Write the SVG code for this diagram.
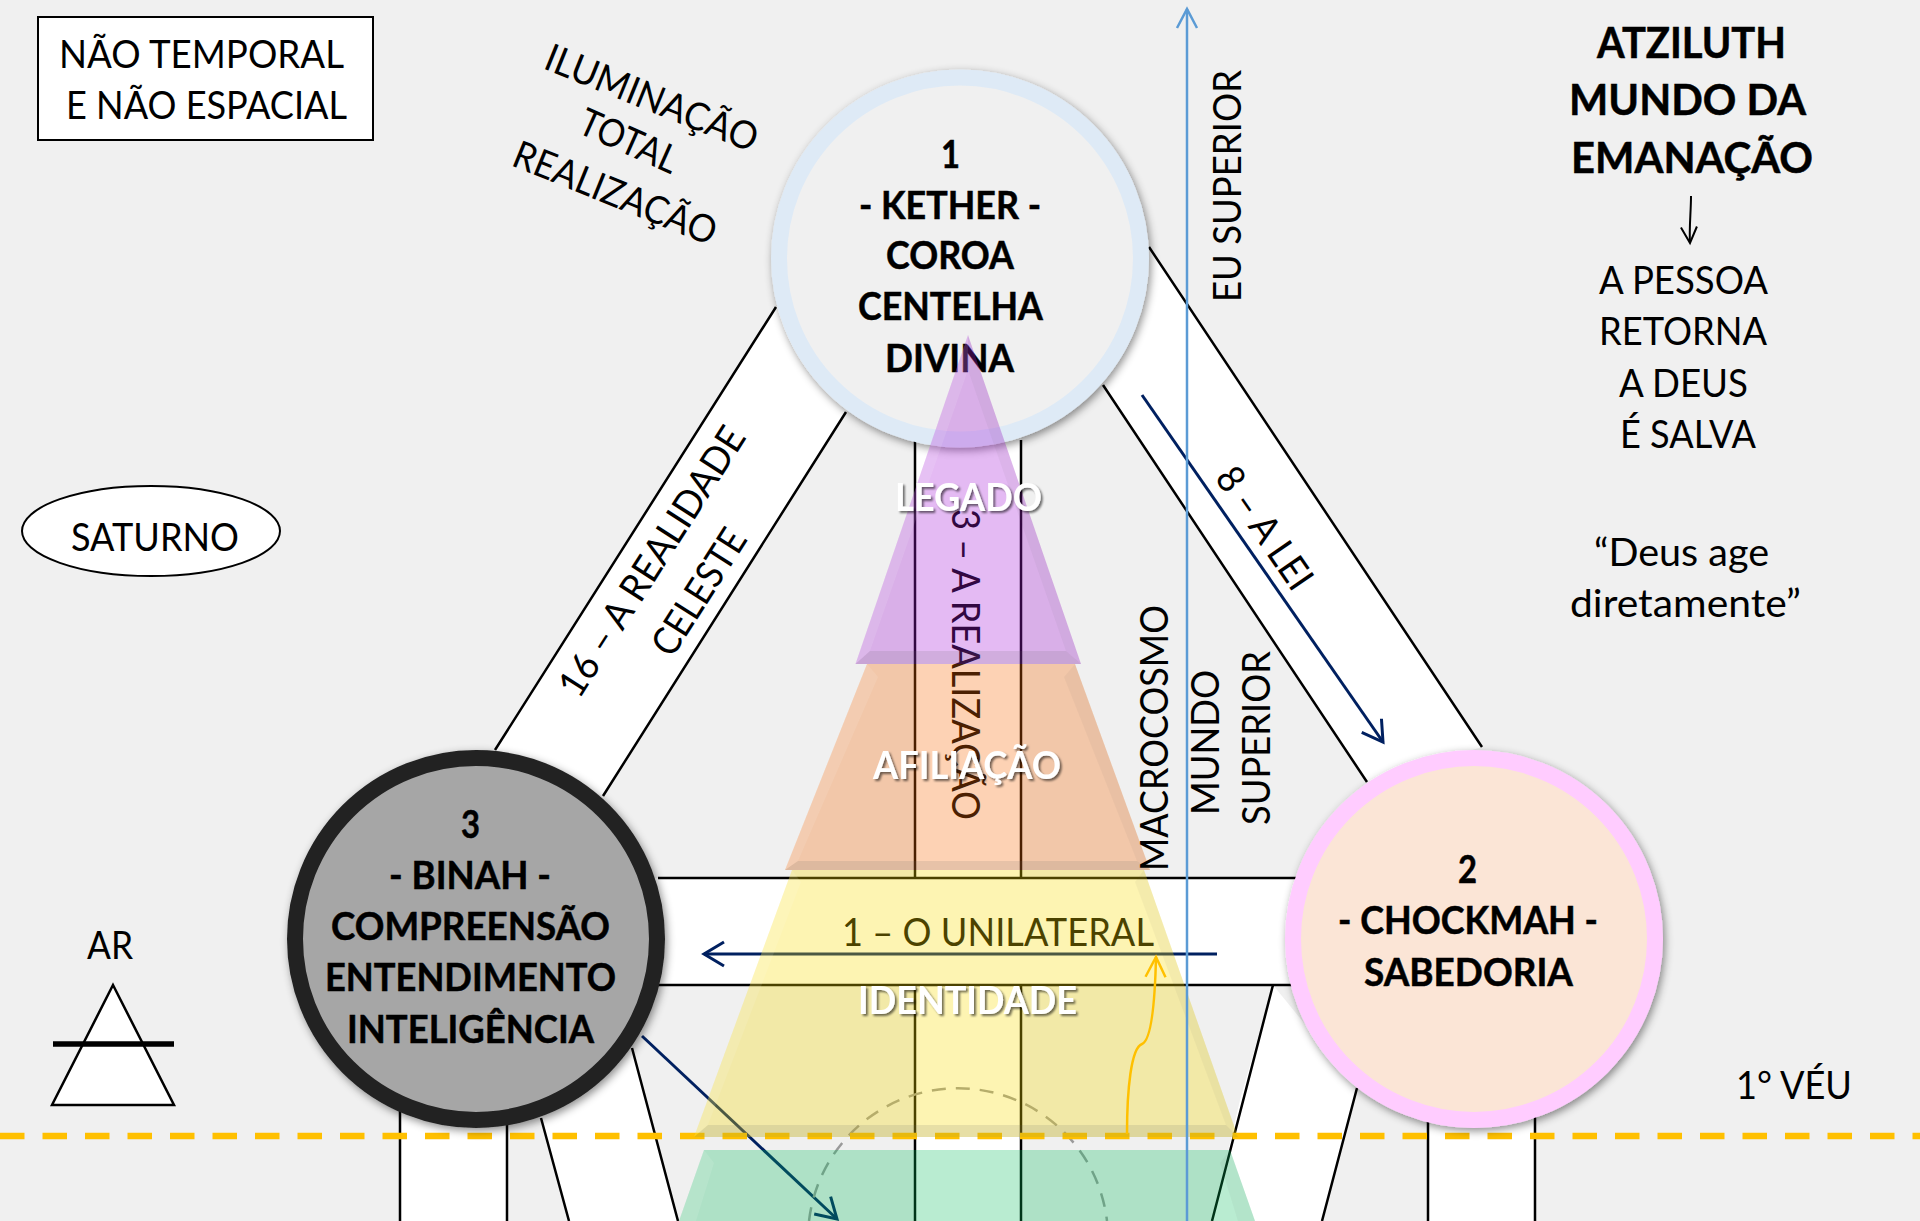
<svg xmlns="http://www.w3.org/2000/svg" width="1920" height="1221" viewBox="0 0 1920 1221">
<style>
text{font-family:Lato,"Open Sans","Liberation Sans",sans-serif;font-size:38.5px;fill:#000}
.b{font-weight:700;stroke:#000;stroke-width:.5}
.h{font-size:42.5px;font-weight:700;stroke:#000;stroke-width:.5}
.w{font-weight:700;fill:#fff;filter:url(#ts)}
.band{fill:#fff;stroke:none}
.edge{fill:none;stroke:#000;stroke-width:2.5}
.nv{fill:none;stroke:#002060;stroke-width:3}
.lite{fill:#fff;opacity:.1}
.dark{fill:#555;opacity:.05}
.base{fill:#666;opacity:.14}
.hi{stroke:#fff;stroke-width:5;opacity:.6;filter:url(#bl)}
.node{stroke-width:16;filter:url(#ds)}
</style>
<defs>
<filter id="ds" x="-15%" y="-15%" width="130%" height="130%"><feDropShadow dx="2" dy="3" stdDeviation="4" flood-color="#000" flood-opacity=".45"/></filter>
<filter id="ts" x="-10%" y="-20%" width="120%" height="140%"><feDropShadow dx="2" dy="2" stdDeviation="1.2" flood-color="#000" flood-opacity=".55"/></filter>
<filter id="bl" x="-5%" y="-300%" width="110%" height="700%"><feGaussianBlur stdDeviation=".8"/></filter>
<marker id="mNavy" markerUnits="userSpaceOnUse" markerWidth="44" markerHeight="44" refX="22" refY="22" orient="auto" overflow="visible"><path d="M2,10 L22,22 L2,34" fill="none" stroke="#002060" stroke-width="3"/></marker>
<marker id="mBlue" markerUnits="userSpaceOnUse" markerWidth="44" markerHeight="44" refX="22" refY="22" orient="auto" overflow="visible"><path d="M3,12 L22,22 L3,32" fill="none" stroke="#5b9bd5" stroke-width="2.5"/></marker>
<marker id="mGold" markerUnits="userSpaceOnUse" markerWidth="44" markerHeight="44" refX="22" refY="22" orient="auto" overflow="visible"><path d="M2,12 L22,22 L2,32" fill="none" stroke="#ffc000" stroke-width="2.5"/></marker>
<marker id="mBlack" markerUnits="userSpaceOnUse" markerWidth="44" markerHeight="44" refX="22" refY="22" orient="auto" overflow="visible"><path d="M6,14 L22,22 L6,30" fill="none" stroke="#000" stroke-width="2"/></marker>
</defs>
<rect width="1920" height="1221" fill="#f0f0f0"/>

<g id="connectors">
<polygon class="band" points="776,307 495,750 603,796 846,412 960,258"/>
<polygon class="band" points="1149,247 1482,747 1367,782 1103,385 960,258"/>
<rect class="band" x="915" y="400" width="106" height="821"/>
<rect class="band" x="640" y="878" width="700" height="107"/>
<polygon class="band" points="1273,985 1357,1088 1322,1221 1212,1221 1240,1100"/>
<polygon class="band" points="530,1080 632,1048 678,1221 569,1221"/>
<rect class="band" x="400" y="1090" width="107" height="131"/>
<rect class="band" x="1428" y="1090" width="107" height="131"/>
<path class="edge" d="M776,307 L495,750 M846,412 L603,796 M1149,247 L1482,747 M1103,385 L1367,782"/>
<path class="edge" d="M915,440 V878 M1021,440 V878 M915,985 V1221 M1021,985 V1221"/>
<path class="edge" d="M658,878 H1300 M658,985 H1300"/>
<path class="edge" d="M1273,985 L1212,1221 M1357,1088 L1322,1221 M541,1118 L569,1221 M632,1048 L678,1221"/>
<path class="edge" d="M400,1100 V1221 M507,1100 V1221 M1428,1100 V1221 M1535,1100 V1221"/>
<path class="nv" d="M1142,395 L1383,742" marker-end="url(#mNavy)"/>
<path class="nv" d="M1217,954 H704" marker-end="url(#mNavy)"/>
<path class="nv" d="M642,1036 L837,1219" marker-end="url(#mNavy)"/>
<path d="M809,1221 A150,150 0 0 1 1107,1221" fill="none" stroke="#9a9a9a" stroke-width="2.5" stroke-dasharray="14 10"/>
<path d="M0,1136 H1920" fill="none" stroke="#ffc000" stroke-width="6.5" stroke-dasharray="24.5 18"/>
</g>

<text x="579" y="700" transform="rotate(-57.4 579 700)" textLength="312" lengthAdjust="spacingAndGlyphs">16 – A REALIDADE</text>
<text x="672" y="659" transform="rotate(-57.5 672 659)" textLength="142" lengthAdjust="spacingAndGlyphs">CELESTE</text>
<text x="1214" y="478" transform="rotate(55.5 1214 478)" textLength="140" lengthAdjust="spacingAndGlyphs">8 – A LEI</text>
<text x="952" y="509" transform="rotate(90 952 509)" textLength="311" lengthAdjust="spacingAndGlyphs">3 – A REALIZAÇÃO</text>
<text x="842" y="946" textLength="312" lengthAdjust="spacingAndGlyphs">1 – O UNILATERAL</text>

<g id="node-kether">
<circle class="node" cx="960" cy="258.5" r="181" fill="#f0f0f0" stroke="#deeaf6"/>
<text class="b" x="941" y="168" textLength="19" lengthAdjust="spacingAndGlyphs">1</text>
<text class="b" x="859" y="219" textLength="182" lengthAdjust="spacingAndGlyphs">- KETHER -</text>
<text class="b" x="886" y="269" textLength="128" lengthAdjust="spacingAndGlyphs">COROA</text>
<text class="b" x="858" y="320" textLength="185" lengthAdjust="spacingAndGlyphs">CENTELHA</text>
<text class="b" x="885" y="372" textLength="129" lengthAdjust="spacingAndGlyphs">DIVINA</text>
</g>
<g id="node-chockmah">
<circle class="node" cx="1474" cy="939" r="181" fill="#fbe5d6" stroke="#ffccff"/>
<text class="b" x="1458" y="883" textLength="19" lengthAdjust="spacingAndGlyphs">2</text>
<text class="b" x="1338" y="934" textLength="260" lengthAdjust="spacingAndGlyphs">- CHOCKMAH -</text>
<text class="b" x="1364" y="986" textLength="209" lengthAdjust="spacingAndGlyphs">SABEDORIA</text>
</g>
<g id="node-binah">
<circle class="node" cx="476" cy="939" r="181" fill="#a6a6a6" stroke="#222"/>
<text class="b" x="461" y="838" textLength="19" lengthAdjust="spacingAndGlyphs">3</text>
<text class="b" x="389" y="889" textLength="162" lengthAdjust="spacingAndGlyphs">- BINAH -</text>
<text class="b" x="331" y="940" textLength="279" lengthAdjust="spacingAndGlyphs">COMPREENSÃO</text>
<text class="b" x="325" y="991" textLength="291" lengthAdjust="spacingAndGlyphs">ENTENDIMENTO</text>
<text class="b" x="347" y="1043" textLength="247" lengthAdjust="spacingAndGlyphs">INTELIGÊNCIA</text>
</g>

<g id="pyramid">
<g id="tier-legado">
<polygon points="968,335 1081,664 855.5,664" fill="#a51ad8" fill-opacity=".3"/>
<polygon class="lite" points="968,335 968,370 870,651 855.5,664"/>
<polygon class="dark" points="968,335 1081,664 1066,651 968,370"/>
<polygon class="base" points="870,651 1066,651 1081,664 855.5,664"/>
</g>
<g id="tier-afiliacao">
<polygon points="867,664 1075,664 1150,870 785,870" fill="#f86905" fill-opacity=".3"/>
<polygon class="lite" points="867,664 878,677 798,861 785,870"/>
<polygon class="dark" points="1075,664 1064,677 1137,861 1150,870"/>
<polygon class="base" points="798,861 1137,861 1150,870 785,870"/>
<line class="hi" x1="868" y1="677" x2="1068" y2="677" style="stroke:#ffffd8"/>
</g>
<g id="tier-identidade">
<polygon points="792,870 1144,870 1238,1137 694,1137" fill="#f8da00" fill-opacity=".3"/>
<polygon class="lite" points="792,870 801,882 708,1125 694,1137"/>
<polygon class="dark" points="1144,870 1135,882 1226,1125 1238,1137"/>
<polygon class="base" points="708,1125 1226,1125 1238,1137 694,1137"/>
<line class="hi" x1="798" y1="882" x2="1138" y2="882"/>
</g>
<g id="tier-verde">
<polygon points="704,1150 1230,1150 1255,1221 679,1221" fill="#05bc58" fill-opacity=".28"/>
<polygon class="lite" points="704,1150 714,1163 696,1221 679,1221"/>
<polygon class="dark" points="1230,1150 1220,1163 1238,1221 1255,1221"/>
<line class="hi" x1="714" y1="1163" x2="1222" y2="1163"/>
</g>
</g>

<text class="w" x="895" y="511" textLength="147" lengthAdjust="spacingAndGlyphs">LEGADO</text>
<text class="w" x="873" y="779" textLength="188" lengthAdjust="spacingAndGlyphs">AFILIAÇÃO</text>
<text class="w" x="858" y="1014" textLength="219" lengthAdjust="spacingAndGlyphs">IDENTIDADE</text>

<g id="arrows-top">
<path d="M1187,1221 V9" fill="none" stroke="#5b9bd5" stroke-width="2.5" marker-end="url(#mBlue)"/>
<path d="M1127,1134 C1127,1090 1131,1048 1142,1044 C1152,1040 1155,1000 1156,957" fill="none" stroke="#ffc000" stroke-width="2.5" marker-end="url(#mGold)"/>
<path d="M1691,196 C1691,212 1689,228 1690,243" fill="none" stroke="#000" stroke-width="2" marker-end="url(#mBlack)"/>
</g>

<g id="box-tempo">
<rect x="38" y="17" width="335" height="123" fill="#fff" stroke="#000" stroke-width="2"/>
<text x="59" y="68" textLength="285" lengthAdjust="spacingAndGlyphs">NÃO TEMPORAL</text>
<text x="66" y="119" textLength="281" lengthAdjust="spacingAndGlyphs">E NÃO ESPACIAL</text>
</g>
<text x="542" y="68" transform="rotate(22 542 68)" textLength="226" lengthAdjust="spacingAndGlyphs">ILUMINAÇÃO</text>
<text x="576" y="132" transform="rotate(24 576 132)" textLength="104" lengthAdjust="spacingAndGlyphs">TOTAL</text>
<text x="510" y="165" transform="rotate(22 510 165)" textLength="216" lengthAdjust="spacingAndGlyphs">REALIZAÇÃO</text>

<g id="node-saturno">
<ellipse cx="151" cy="531" rx="129" ry="45" fill="#fff" stroke="#000" stroke-width="2"/>
<text x="71" y="551" textLength="168" lengthAdjust="spacingAndGlyphs">SATURNO</text>
</g>
<g id="node-ar">
<text x="87" y="959" textLength="46" lengthAdjust="spacingAndGlyphs">AR</text>
<polygon points="113,985 174,1105 52,1105" fill="#fff" stroke="#000" stroke-width="2.5"/>
<line x1="53" y1="1044" x2="174" y2="1044" stroke="#000" stroke-width="5.5"/>
</g>

<text x="1241" y="302" transform="rotate(-90 1241 302)" textLength="232" lengthAdjust="spacingAndGlyphs">EU SUPERIOR</text>
<text x="1168" y="871" transform="rotate(-90 1168 871)" textLength="266" lengthAdjust="spacingAndGlyphs">MACROCOSMO</text>
<text x="1219" y="815" transform="rotate(-90 1219 815)" textLength="145" lengthAdjust="spacingAndGlyphs">MUNDO</text>
<text x="1270" y="825" transform="rotate(-90 1270 825)" textLength="174" lengthAdjust="spacingAndGlyphs">SUPERIOR</text>

<text class="h" x="1597" y="58" textLength="189" lengthAdjust="spacingAndGlyphs">ATZILUTH</text>
<text class="h" x="1569" y="115" textLength="237" lengthAdjust="spacingAndGlyphs">MUNDO DA</text>
<text class="h" x="1571" y="173" textLength="242" lengthAdjust="spacingAndGlyphs">EMANAÇÃO</text>
<text x="1599" y="294" textLength="169" lengthAdjust="spacingAndGlyphs">A PESSOA</text>
<text x="1599" y="345" textLength="168" lengthAdjust="spacingAndGlyphs">RETORNA</text>
<text x="1619" y="397" textLength="129" lengthAdjust="spacingAndGlyphs">A DEUS</text>
<text x="1620" y="448" textLength="136" lengthAdjust="spacingAndGlyphs">É SALVA</text>
<text x="1594" y="566" textLength="175" lengthAdjust="spacingAndGlyphs">“Deus age</text>
<text x="1570" y="617" textLength="231" lengthAdjust="spacingAndGlyphs">diretamente”</text>
<text x="1736" y="1099" textLength="116" lengthAdjust="spacingAndGlyphs">1° VÉU</text>
</svg>
